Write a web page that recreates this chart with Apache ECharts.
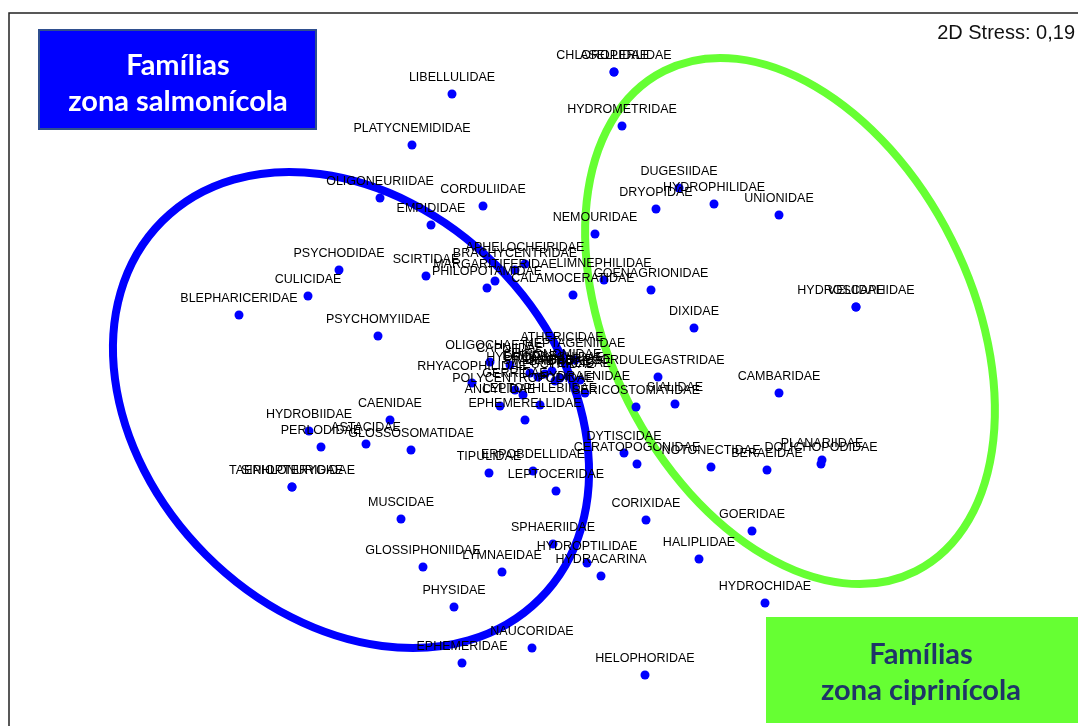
<!DOCTYPE html>
<html>
<head>
<meta charset="utf-8">
<title>NMDS famílias</title>
<script src="https://cdn.jsdelivr.net/npm/echarts@6/dist/echarts.min.js"></script>
<style>
  html, body { margin: 0; padding: 0; background: #fff; }
  #nmds { width: 1078px; height: 726px; }
</style>
</head>
<body>
<div id="nmds"></div>
<script>
// famílias e coordenadas NMDS (unidades do gráfico)
const families = [
  'CHLOROPERLIDAE', 'ASELLIDAE', 'HYDROMETRIDAE', 'LIBELLULIDAE', 'PLATYCNEMIDIDAE',
  'OLIGONEURIIDAE', 'CORDULIIDAE', 'EMPIDIDAE', 'DUGESIIDAE', 'HYDROPHILIDAE',
  'DRYOPIDAE', 'UNIONIDAE', 'NEMOURIDAE', 'PSYCHODIDAE', 'CULICIDAE',
  'BLEPHARICERIDAE', 'SCIRTIDAE', 'APHELOCHEIRIDAE', 'BRACHYCENTRIDAE', 'MARGARITIFERIDAE',
  'PHILOPOTAMIDAE', 'LIMNEPHILIDAE', 'CALAMOCERATIDAE', 'COENAGRIONIDAE', 'DIXIDAE',
  'PSYCHOMYIIDAE', 'HYDROSCAPHIDAE', 'VELIIDAE', 'ATHERICIDAE', 'OLIGOCHAETA',
  'CAPNIIDAE', 'HEPTAGENIIDAE', 'HYDROPSYCHIDAE', 'SIMULIIDAE', 'CHIRONOMIDAE',
  'BAETIDAE', 'ELMIDAE', 'GAMMARIDAE', 'LEUCTRIDAE', 'PERLIDAE',
  'CORDULEGASTRIDAE', 'RHYACOPHILIDAE', 'POLYCENTROPODIDAE', 'GERRIDAE', 'HYDRAENIDAE',
  'ANCYLIDAE', 'LEPTOPHLEBIIDAE', 'SERICOSTOMATIDAE', 'SIALIDAE', 'EPHEMERELLIDAE',
  'CAENIDAE', 'HYDROBIIDAE', 'PERLODIDAE', 'ASTACIDAE', 'GLOSSOSOMATIDAE',
  'SIPHLONURIDAE', 'TAENIOPTERYGIDAE', 'MUSCIDAE', 'TIPULIDAE', 'ERPOBDELLIDAE',
  'LEPTOCERIDAE', 'DYTISCIDAE', 'CERATOPOGONIDAE', 'NOTONECTIDAE', 'BERAEIDAE',
  'DOLICHOPODIDAE', 'PLANARIIDAE', 'CAMBARIDAE', 'GOERIDAE', 'CORIXIDAE',
  'SPHAERIIDAE', 'HYDROPTILIDAE', 'HYDRACARINA', 'HALIPLIDAE', 'LYMNAEIDAE',
  'GLOSSIPHONIIDAE', 'PHYSIDAE', 'HYDROCHIDAE', 'NAUCORIDAE', 'EPHEMERIDAE',
  'HELOPHORIDAE'
];
const dim1 = [
  614, 614, 622, 452, 412,
  380, 483, 431, 679, 714,
  656, 779, 595, 339, 308,
  239, 426, 525, 515, 495,
  487, 604, 573, 651, 694,
  378, 856, 856, 562, 490,
  510, 575, 545, 538, 552,
  560, 530, 568, 555, 580,
  658, 472, 523, 515, 585,
  500, 540, 636, 675, 525,
  390, 309, 321, 366, 411,
  292, 292, 401, 489, 533,
  556, 624, 637, 711, 767,
  821, 822, 779, 752, 646,
  553, 587, 601, 699, 502,
  423, 454, 765, 532, 462,
  645
];
const dim2 = [
  72, 72, 126, 94, 145,
  198, 206, 225, 188, 204,
  209, 215, 234, 270, 296,
  315, 276, 264, 270, 281,
  288, 280, 295, 290, 328,
  336, 307, 307, 354, 362,
  365, 360, 374, 377, 371,
  378, 373, 376, 381, 380,
  377, 383, 395, 390, 393,
  406, 405, 407, 404, 420,
  420, 431, 447, 444, 450,
  487, 487, 519, 473, 471,
  491, 453, 464, 467, 470,
  464, 460, 393, 531, 520,
  544, 563, 576, 559, 572,
  567, 607, 603, 648, 663,
  675
];
const stressLabel = '2D Stress: 0,19';
// grupos: centro, semi-eixos e inclinação (graus)
const groupNames = ['zona salmonícola', 'zona ciprinícola'];
const groupCenter = [[351, 410], [790, 321]];
const groupAxes = [[267, 205], [280, 181]];
const groupTilt = [45, 63.3];
const groupColors = ['#0000ff', '#66ff33'];

const chart = echarts.init(document.getElementById('nmds'));

const points = families.map((f, i) => ({ name: f, value: [dim1[i], dim2[i]] }));

chart.setOption({
  animation: false,
  grid: { left: 0, right: 0, top: 0, bottom: 0 },
  xAxis: { type: 'value', min: 0, max: 1078, show: false, splitLine: { show: false } },
  yAxis: { type: 'value', min: 0, max: 726, inverse: true, show: false, splitLine: { show: false } },
  series: [{
    type: 'scatter',
    z: 20,
    symbolSize: 9,
    itemStyle: { color: '#0000ff', opacity: 1 },
    label: {
      show: true,
      position: 'top',
      distance: 5,
      formatter: '{b}',
      color: '#000',
      fontFamily: 'Liberation Sans, Arial, sans-serif',
      fontSize: 12.5
    },
    labelLayout: { hideOverlap: false },
    data: points
  }]
});

const ellipses = groupCenter.map((c, i) => {
  const p = chart.convertToPixel({ gridIndex: 0 }, c);
  return {
    type: 'ellipse',
    z: -10,
    x: p[0],
    y: p[1],
    rotation: -groupTilt[i] * Math.PI / 180,
    shape: { cx: 0, cy: 0, rx: groupAxes[i][0], ry: groupAxes[i][1] },
    style: { fill: null, stroke: groupColors[i], lineWidth: 8 }
  };
});

chart.setOption({
  graphic: [
    // moldura
    { type: 'polyline', z: 30, shape: { points: [[9, 740], [9, 13], [1090, 13]] },
      style: { stroke: '#222', lineWidth: 1.5, fill: null } },
    ...ellipses,
    { type: 'text', z: 30, x: 1075, y: 33,
      style: { text: stressLabel, align: 'right', verticalAlign: 'middle',
        fontFamily: 'Liberation Sans, Arial, sans-serif', fontSize: 20, fill: '#111' } },
    // caixa azul
    { type: 'rect', z: 30, shape: { x: 39, y: 30, width: 277, height: 99 },
      style: { fill: groupColors[0], stroke: '#2f4f8f', lineWidth: 2 } },
    { type: 'text', z: 31, x: 178, y: 84,
      style: { text: 'Famílias\n' + groupNames[0], align: 'center', verticalAlign: 'middle',
        fontFamily: 'Lato, sans-serif', fontWeight: 'bold', fontSize: 29, lineHeight: 36, fill: '#fff' } },
    // caixa verde
    { type: 'rect', z: 30, shape: { x: 766, y: 617, width: 320, height: 106 },
      style: { fill: groupColors[1] } },
    { type: 'text', z: 31, x: 921, y: 673,
      style: { text: 'Famílias\n' + groupNames[1], align: 'center', verticalAlign: 'middle',
        fontFamily: 'Lato, sans-serif', fontWeight: 'bold', fontSize: 29, lineHeight: 36, fill: '#1f3468' } }
  ]
});
</script>
</body>
</html>
